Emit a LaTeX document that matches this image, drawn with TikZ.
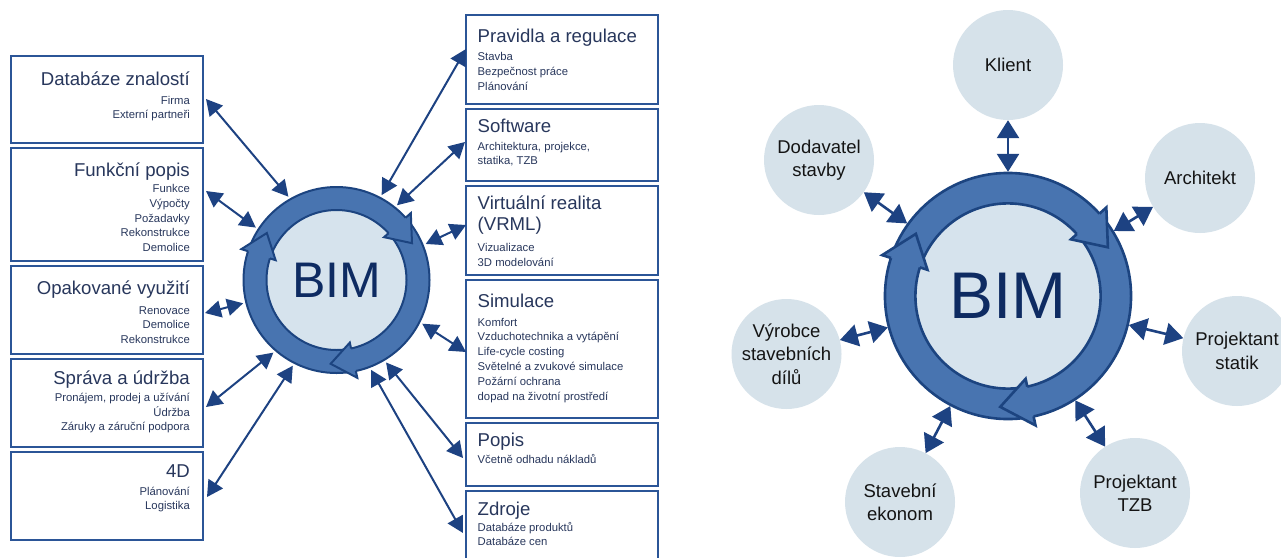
\documentclass[tikz,border=0pt]{standalone}
\usepackage{fontspec}
\setmainfont{Liberation Sans}
\usetikzlibrary{arrows.meta}
\definecolor{conn}{RGB}{29,66,130}
\definecolor{boxline}{RGB}{43,85,151}
\definecolor{boxtext}{RGB}{40,55,92}
\definecolor{ringfill}{RGB}{72,116,176}
\definecolor{ringline}{RGB}{28,68,128}
\definecolor{innerfill}{RGB}{214,227,237}
\definecolor{bimtext}{RGB}{14,43,98}
\definecolor{satfill}{RGB}{214,226,234}
\definecolor{sattext}{RGB}{20,20,20}
\newcommand{\bimring}{%
  \fill[innerfill] (0,0) circle (70);
  \fill[ringfill, even odd rule] (0,0) circle (93) (0,0) circle (70);
  \draw[ringstroke] (0,0) circle (93) (0,0) circle (70);
  \foreach \ta in {26,146,266} {%
    \pgfmathsetmacro{\tb}{\ta+16}%
    \fill[ringfill] (\tb:93) -- (\tb:100) -- (\ta:84) -- (\tb:64) -- (\tb:70) -- cycle;
    \draw[ringstroke, line join=miter] (\tb:93) -- (\tb:100) -- (\ta:84) -- (\tb:64) -- (\tb:70);
  }%
}
\begin{document}
\begin{tikzpicture}[x=1pt, y=-1pt,
  box/.style={draw=boxline, line width=2.2pt, minimum width=192pt, inner sep=0pt},
  ltitle/.style={anchor=base east, inner sep=0pt, text=boxtext, font=\fontsize{18.6}{22}\selectfont},
  litem/.style={anchor=base east, inner sep=0pt, text=boxtext, font=\fontsize{11.3}{14}\selectfont},
  rtitle/.style={anchor=base west, inner sep=0pt, text=boxtext, font=\fontsize{18.6}{22}\selectfont},
  ritem/.style={anchor=base west, inner sep=0pt, text=boxtext, font=\fontsize{11.3}{14}\selectfont},
  lconn/.style={draw=conn, line width=2pt, >={Triangle[length=16pt,width=17pt]}, <->},
  rconn/.style={draw=conn, line width=2.6pt, >={Triangle[length=18pt,width=22pt]}, <->},
  sat/.style={circle, fill=satfill, minimum size=110pt, inner sep=0pt},
  sattxt/.style={align=center, inner sep=0pt, text=sattext, font=\fontsize{18.5}{23.3}\selectfont},
  ringstroke/.style={draw=ringline, line width=2pt},
  bimtxt/.style={circle, inner sep=0pt, text=bimtext}]
\useasboundingbox (0,0) rectangle (1281,557);
\clip (0,0) rectangle (1281,557);
\fill[white] (0,0) rectangle (1281,557);

% ---------- left boxes ----------
\node[box, minimum height=87pt] (db) at (107,99.5) {};
\node[box, minimum height=113pt] (fp) at (107,204.5) {};
\node[box, minimum height=88pt] (ov) at (107,310) {};
\node[box, minimum height=88pt] (su) at (107,403) {};
\node[box, minimum height=88pt] (d4) at (107,496) {};

\node[ltitle] (dbT) at (190,85) {Databáze znalostí};
\foreach \s [count=\i from 0] in {Firma, Externí partneři}
  \node[litem] (dbI\i) at (190,104+14.8*\i) {\s};
\node[ltitle] (fpT) at (190,176.5) {Funkční popis};
\foreach \s [count=\i from 0] in {Funkce, Výpočty, Požadavky, Rekonstrukce, Demolice}
  \node[litem] (fpI\i) at (190,192.5+14.8*\i) {\s};
\node[ltitle] (ovT) at (190,294) {Opakované využití};
\foreach \s [count=\i from 0] in {Renovace, Demolice, Rekonstrukce}
  \node[litem] (ovI\i) at (190,314+14.6*\i) {\s};
\node[ltitle] (suT) at (190,384) {Správa a údržba};
\foreach \s [count=\i from 0] in {{Pronájem, prodej a užívání}, Údržba, Záruky a záruční podpora}
  \node[litem] (suI\i) at (190,401.7+14.5*\i) {\s};
\node[ltitle] (d4T) at (190,477.7) {4D};
\foreach \s [count=\i from 0] in {Plánování, Logistika}
  \node[litem] (d4I\i) at (190,495+14.8*\i) {\s};

% ---------- right boxes ----------
\node[box, minimum height=89pt] (pr) at (562,59.5) {};
\node[box, minimum height=72pt] (sw) at (562,145) {};
\node[box, minimum height=89pt] (vr) at (562,230.5) {};
\node[box, minimum height=138pt] (si) at (562,349) {};
\node[box, minimum height=63pt] (po) at (562,454.5) {};
\node[box, minimum height=84pt] (zd) at (562,533) {};

\node[rtitle] (prT) at (477.5,42.3) {Pravidla a regulace};
\foreach \s [count=\i from 0] in {Stavba, Bezpečnost práce, Plánování}
  \node[ritem] (prI\i) at (477.5,60.7+14.7*\i) {\s};
\node[rtitle] (swT) at (477.5,132) {Software};
\foreach \s [count=\i from 0] in {{Architektura, projekce,}, {statika, TZB}}
  \node[ritem] (swI\i) at (477.5,150+14.5*\i) {\s};
\node[rtitle] (vrT) at (477.5,209) {Virtuální realita};
\node[rtitle] (vrT2) at (477.5,230.7) {(VRML)};
\foreach \s [count=\i from 0] in {Vizualizace, 3D modelování}
  \node[ritem] (vrI\i) at (477.5,251.7+14.5*\i) {\s};
\node[rtitle] (siT) at (477.5,307.3) {Simulace};
\foreach \s [count=\i from 0] in {Komfort, Vzduchotechnika a vytápění, Life-cycle costing, Světelné a zvukové simulace, Požární ochrana, dopad na životní prostředí}
  \node[ritem] (siI\i) at (477.5,326+14.8*\i) {\s};
\node[rtitle] (poT) at (477.5,446.7) {Popis};
\node[ritem] (poI0) at (477.5,463.3) {Včetně odhadu nákladů};
\node[rtitle] (zdT) at (477.5,515) {Zdroje};
\foreach \s [count=\i from 0] in {Databáze produktů, Databáze cen}
  \node[ritem] (zdI\i) at (477.5,531+14.7*\i) {\s};

% ---------- left BIM ring ----------
\begin{scope}[shift={(336.5,280)}, yscale=-1]
  \bimring
\end{scope}
\node[bimtxt, minimum size=192pt, font=\fontsize{50}{60}\selectfont] (bimL) at (336.5,280) {BIM};

% ---------- left connectors ----------
\coordinate (e1) at (206,99);
\coordinate (e2) at (206,191);
\coordinate (e3) at (205,313);
\coordinate (e4) at (206,407);
\coordinate (e5) at (207,497);
\coordinate (e6) at (466,49);
\coordinate (e7) at (465,142);
\coordinate (e8) at (466,225);
\coordinate (e9) at (466,352);
\coordinate (e10) at (463,458);
\coordinate (e11) at (463,533);
\draw[lconn] (e1) -- (bimL.120);
\draw[lconn] (e2) -- (bimL.147);
\draw[lconn] (e3) -- (bimL.194);
\draw[lconn] (e4) -- (bimL.229);
\draw[lconn] (e5) -- (bimL.243);
\draw[lconn] (e6) -- (bimL.62);
\draw[lconn] (e7) -- (bimL.51);
\draw[lconn] (e8) -- (bimL.22);
\draw[lconn] (e9) -- (bimL.-27);
\draw[lconn] (e10) -- (bimL.-59);
\draw[lconn] (e11) -- (bimL.-69);

% ---------- right diagram ----------
\begin{scope}[shift={(1008,296)}, yscale=-1, scale=1.323, ringstroke/.style={draw=ringline, line width=2.6pt}]
  \bimring
\end{scope}
\node[bimtxt, minimum size=248pt, font=\fontsize{66}{76}\selectfont] (bimR) at (1008,296) {BIM};

\node[sat] (klient) at (1008,65) {};
\node[sat] (dodav) at (819,160) {};
\node[sat] (archi) at (1200,178) {};
\node[sat] (vyrob) at (786.5,354) {};
\node[sat] (statik) at (1237,351) {};
\node[sat] (ekonom) at (900,502) {};
\node[sat] (tzb) at (1135,493) {};

\node[sattxt] (klientT) at (klient) {Klient};
\node[sattxt] (dodavT) at (dodav) {Dodavatel\\stavby};
\node[sattxt] (archiT) at (archi) {Architekt};
\node[sattxt] (vyrobT) at (vyrob) {Výrobce\\stavebních\\dílů};
\node[sattxt] (statikT) at (statik) {Projektant\\statik};
\node[sattxt] (ekonomT) at (ekonom) {Stavební\\ekonom};
\node[sattxt] (tzbT) at (tzb) {Projektant\\TZB};

\foreach \n in {klient, dodav, archi, vyrob, statik, ekonom, tzb}
  \draw[rconn] (\n) -- (bimR);
\end{tikzpicture}
\end{document}
